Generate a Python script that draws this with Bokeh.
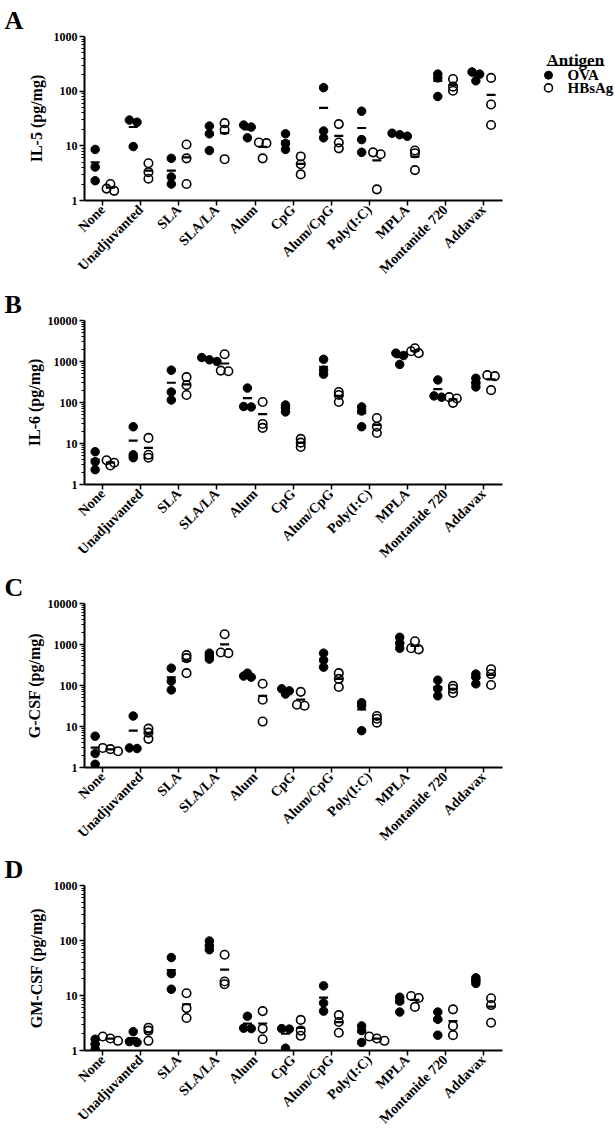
import numpy as np
from bokeh.plotting import figure
from bokeh.models import FixedTicker, Range1d, BasicTickFormatter
from bokeh.layouts import column, row
from bokeh.embed import file_html
from bokeh.resources import INLINE
from bokeh.core.properties import value

# ---------------- data ----------------
categories = ["None", "Unadjuvanted", "SLA", "SLA/LA", "Alum", "CpG", "Alum/CpG",
              "Poly(I:C)", "MPLA", "Montanide 720", "Addavax"]
antigens = ["OVA", "HBsAg"]

il5_ova = [[8.6, 4.1, 2.3], [29.6, 27, 9.7], [5.9, 2.7, 2.0], [23, 16.6, 8.2],
           [24, 22, 14], [16.6, 11, 8.6], [116, 18.7, 14], [43, 13, 7.6],
           [17, 16, 15], [205, 175, 80], [225, 205, 155]]
il5_hbsag = [[2.0, 1.65, 1.5], [4.8, 3.3, 2.5], [10.6, 5.9, 2.0], [26, 19.6, 5.7],
             [11.5, 11.2, 5.9], [6.4, 4.6, 3.0], [25, 11.5, 9], [7.6, 7.0, 1.6],
             [8.2, 7.3, 3.6], [167, 121, 102], [175, 57, 24]]

il6_ova = [[6.3, 3.6, 2.3], [25.6, 5.3, 4.5], [615, 180, 115], [1250, 1100, 1000],
           [225, 80, 78], [87, 74, 59], [1130, 615, 490], [78, 62, 25.6],
           [1600, 1400, 850], [355, 145, 135], [390, 297, 240]]
il6_hbsag = [[3.9, 3.4, 2.9], [13.7, 5.3, 4.5], [415, 265, 152], [1500, 600, 580],
             [103, 30, 24], [13, 10.5, 8.2], [180, 152, 103], [42, 25.6, 18],
             [2100, 1780, 1600], [135, 125, 98], [465, 440, 200]]

gcsf_ova = [[5.8, 2.2, 1.2], [18, 3.0, 2.9], [265, 128, 78], [615, 520, 440],
            [200, 170, 160], [83, 74, 62], [615, 415, 280], [38, 32, 7.9],
            [1500, 1070, 810], [135, 83, 56], [190, 160, 110]]
gcsf_hbsag = [[3.0, 2.8, 2.5], [8.9, 7.1, 5.0], [550, 465, 200], [1780, 640, 615],
              [110, 45, 13.2], [70, 34, 32], [200, 145, 92], [18, 15.5, 12.4],
              [1200, 810, 760], [98, 83, 66], [250, 190, 103]]

gmcsf_ova = [[1.6, 1.3, 1.05], [2.2, 1.45, 1.4], [49, 25, 13], [98, 80, 68],
             [4.2, 2.55, 2.5], [2.5, 2.45, 1.1], [15, 7.3, 5.2], [2.8, 2.3, 1.4],
             [9.3, 7.9, 5.0], [5.0, 3.7, 1.9], [21, 18.8, 16.6]]
gmcsf_hbsag = [[1.8, 1.65, 1.5], [2.6, 2.3, 1.5], [11, 5.9, 3.9], [55, 18, 16],
               [5.2, 2.5, 1.6], [3.6, 2.3, 1.85], [4.4, 3.3, 2.1], [1.8, 1.65, 1.5],
               [9.8, 9.0, 6.2], [5.6, 2.8, 1.9], [8.9, 6.7, 3.2]]

ticks_3dec = [1, 10, 100, 1000]
ticks_4dec = [1, 10, 100, 1000, 10000]
tick_labels_3dec = ["1", "10", "100", "1000"]
tick_labels_4dec = ["1", "10", "100", "1000", "10000"]

panels = [
    ("A", "IL-5 (pg/mg)", ticks_3dec, tick_labels_3dec, il5_ova, il5_hbsag),
    ("B", "IL-6 (pg/mg)", ticks_4dec, tick_labels_4dec, il6_ova, il6_hbsag),
    ("C", "G-CSF (pg/mg)", ticks_4dec, tick_labels_4dec, gcsf_ova, gcsf_hbsag),
    ("D", "GM-CSF (pg/mg)", ticks_3dec, tick_labels_3dec, gmcsf_ova, gmcsf_hbsag),
]

# ---------------- style / layout ----------------
FONT = "Liberation Serif"
FIG_W = 506
B_LEFT, B_RIGHT = 84, 4
FRAME_H = 166
FIG_HEIGHTS = [284, 284, 283, 283]
FIG_TOPS = [36, 36, 35, 34]
GROUP_OFF = 0.2
SWARM_STEP = 0.2
MSIZE = 8.5


def swarm_offsets(vals, px_per_decade, thr=2.5):
    """Spread strongly overlapping points side by side (deterministic beeswarm)."""
    order = sorted(range(len(vals)), key=lambda i: -vals[i])
    clusters, cur = [], [order[0]]
    for a, b in zip(order[:-1], order[1:]):
        if (np.log10(vals[a]) - np.log10(vals[b])) * px_per_decade < thr:
            cur.append(b)
        else:
            clusters.append(cur)
            cur = [b]
    clusters.append(cur)
    offs = [0.0] * len(vals)
    for c in clusters:
        n = len(c)
        for k, idx in enumerate(c):
            offs[idx] = (k - (n - 1) / 2) * SWARM_STEP
    return offs


def make_panel(k, letter, ylabel, yticks, ylabels, ova, hbs):
    ymax = yticks[-1]
    ppd = FRAME_H / np.log10(ymax)
    H, top = FIG_HEIGHTS[k], FIG_TOPS[k]
    p = figure(width=FIG_W, height=H, x_range=Range1d(-0.48, 10.5),
               y_range=Range1d(1, ymax), y_axis_type="log",
               output_backend="svg", toolbar_location=None,
               min_border_left=B_LEFT, min_border_right=B_RIGHT,
               min_border_top=top, min_border_bottom=H - top - FRAME_H,
               title=letter)
    p.outline_line_color = None
    p.grid.visible = False
    p.background_fill_color = "white"
    p.border_fill_color = "white"

    p.title.text_font = FONT
    p.title.text_font_size = "26px"
    p.title.text_font_style = "bold"
    p.title.text_color = "black"
    p.title.align = "left"
    p.title.offset = -80
    p.title.standoff = 3

    for series, filled, sgn in ((ova, True, -1), (hbs, False, 1)):
        xs, ys, mx, my = [], [], [], []
        for i, vals in enumerate(series):
            center = i + sgn * GROUP_OFF
            offs = swarm_offsets(vals, ppd)
            for v, o in zip(vals, offs):
                xs.append(center + o)
                ys.append(v)
            mx.append(center)
            my.append(float(np.mean(vals)))
        if filled:
            p.scatter(xs, ys, marker="circle", size=MSIZE, fill_color="black",
                      line_color="black", line_width=1)
        else:
            p.scatter(xs, ys, marker="circle", size=MSIZE, fill_alpha=0,
                      line_color="black", line_width=1.6)
        p.scatter(mx, my, marker="dash", size=9, line_color="black", line_width=2.2)

    xa = p.xaxis[0]
    xa.ticker = FixedTicker(ticks=list(range(len(categories))))
    xa.major_label_overrides = {i: c for i, c in enumerate(categories)}
    xa.major_label_orientation = np.pi / 4
    xa.major_label_text_font = FONT
    xa.major_label_text_font_style = "bold"
    xa.major_label_text_font_size = "14px"
    xa.major_label_text_color = "black"
    xa.major_label_standoff = 2
    xa.axis_line_width = 2
    xa.axis_line_color = "black"
    xa.major_tick_line_width = 1.5
    xa.major_tick_line_color = "black"
    xa.major_tick_out = 5
    xa.major_tick_in = 0
    xa.minor_tick_line_color = None

    ya = p.yaxis[0]
    minors = [m * d for d in yticks[:-1] for m in range(2, 10)]
    ya.ticker = FixedTicker(ticks=yticks, minor_ticks=minors)
    ya.formatter = BasicTickFormatter(use_scientific=False)
    ya.major_label_overrides = {t: l for t, l in zip(yticks, ylabels)}
    ya.major_label_text_font = FONT
    ya.major_label_text_font_style = "bold"
    ya.major_label_text_font_size = "12px"
    ya.major_label_text_color = "black"
    ya.major_label_standoff = 2
    ya.axis_line_width = 2
    ya.axis_line_color = "black"
    ya.major_tick_line_width = 1.5
    ya.major_tick_line_color = "black"
    ya.major_tick_out = 5
    ya.major_tick_in = 0
    ya.minor_tick_line_width = 1
    ya.minor_tick_line_color = "black"
    ya.minor_tick_out = 3
    ya.minor_tick_in = 0
    ya.axis_label = ylabel
    ya.axis_label_text_font = FONT
    ya.axis_label_text_font_style = "bold"
    ya.axis_label_text_font_size = "16px"
    ya.axis_label_text_color = "black"
    ya.axis_label_standoff = 6 if len(yticks) == 4 else 2
    return p


figs = [make_panel(k, *pa) for k, pa in enumerate(panels)]

# ---------------- legend (separate small figure) ----------------
LEG_W = 108
LEG_H = FIG_HEIGHTS[0]
leg = figure(width=LEG_W, height=LEG_H, x_range=Range1d(0, LEG_W), y_range=Range1d(LEG_H, 0),
             output_backend="svg", toolbar_location=None, x_axis_type=None, y_axis_type=None,
             min_border=0)
leg.outline_line_color = None
leg.grid.visible = False
leg.text([40], [42], text=["Antigen"], text_font=value(FONT), text_font_style="bold",
         text_font_size="17px", text_baseline="middle", text_align="left", text_color="black")
leg.segment([40], [50], [98], [50], line_color="black", line_width=1.3)
leg.scatter([42], [67], marker="circle", size=8, fill_color="black", line_color="black")
leg.scatter([42], [89], marker="circle", size=8, fill_alpha=0, line_color="black", line_width=1.6)
leg.text([61, 61], [67, 89], text=antigens, text_font=value(FONT), text_font_style="bold",
         text_font_size="15px", text_baseline="middle", text_align="left", text_color="black")

layout = column(row(figs[0], leg), figs[1], figs[2], figs[3])
open("out.html", "w").write(file_html(layout, INLINE))
